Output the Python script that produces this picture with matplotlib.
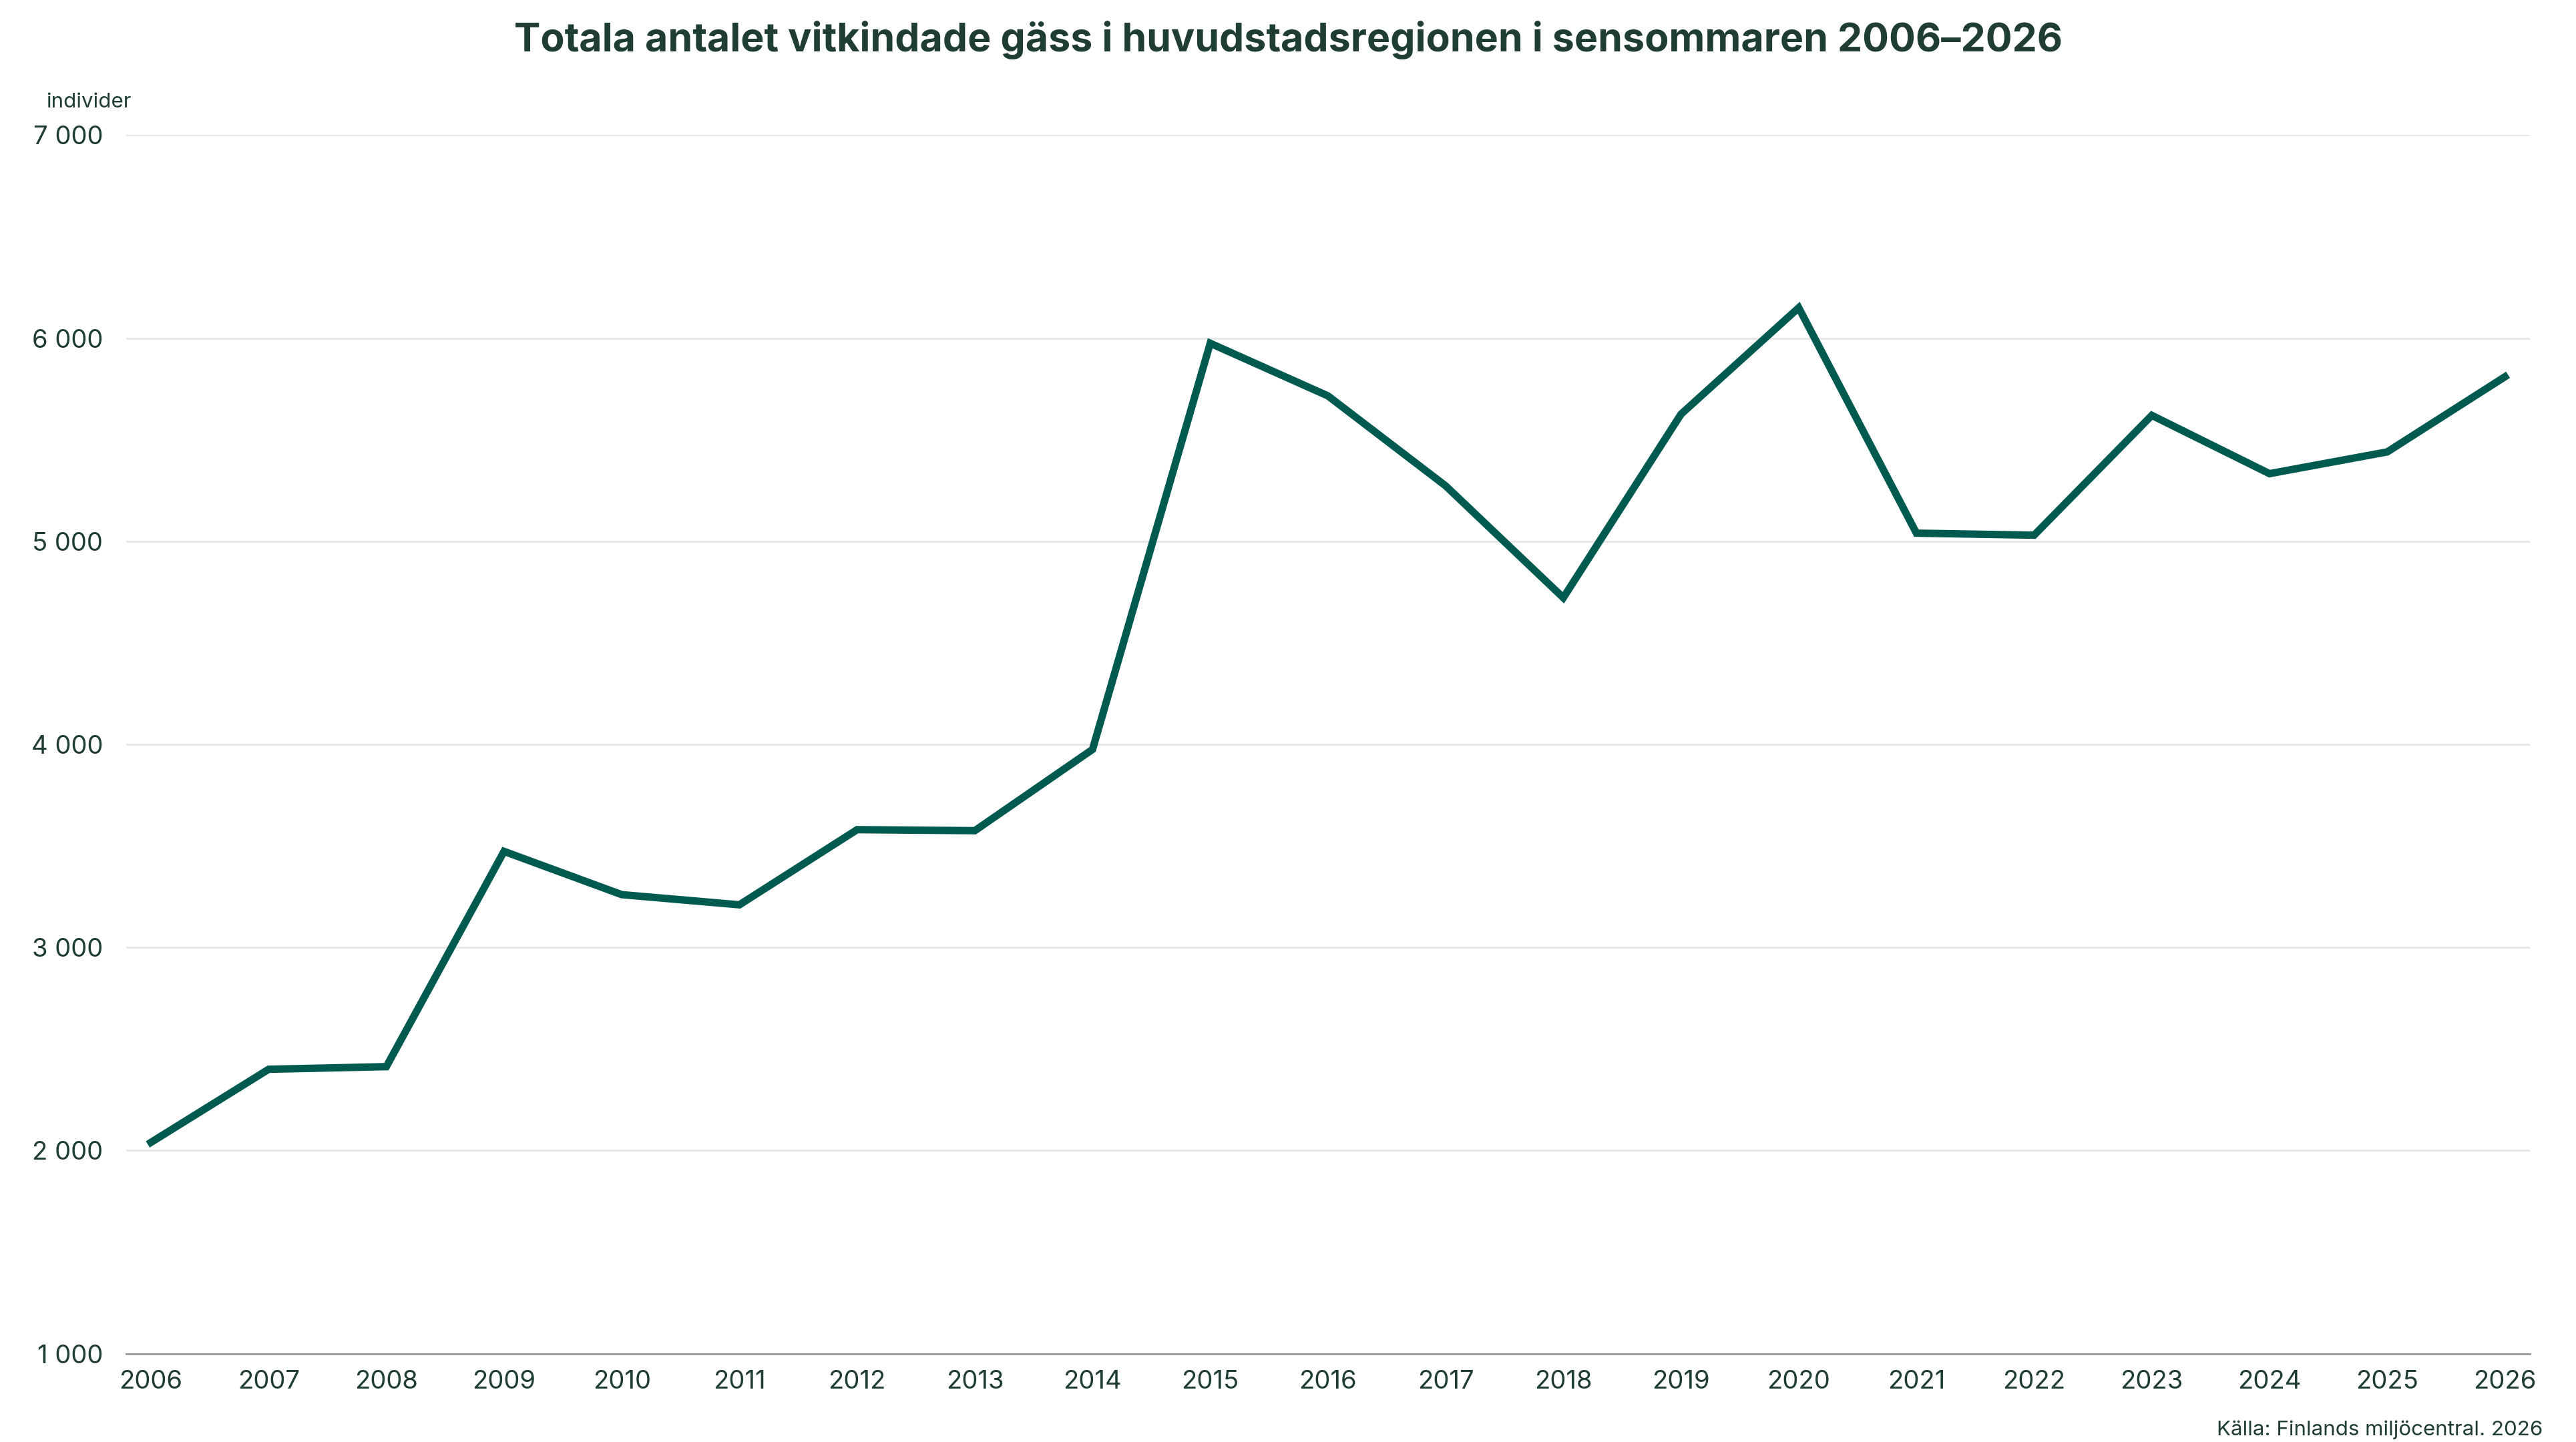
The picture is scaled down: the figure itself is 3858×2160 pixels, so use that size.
import matplotlib.pyplot as plt

years = list(range(2006, 2027))
geese = [2040, 2400, 2413, 3473, 3260, 3210, 3580, 3575, 3975, 5975, 5716,
         5273, 4722, 5626, 6150, 5040, 5030, 5620, 5333, 5440, 5810]
yticks = [1000, 2000, 3000, 4000, 5000, 6000, 7000]

plt.rcParams['font.family'] = ['Inter', 'DejaVu Sans']
dark = "#1f3d33"

fig = plt.figure(figsize=(15.432, 8.64), dpi=250)
ax = fig.add_axes([0.049, 0.0613, 0.933, 0.845])
ax.plot(years, geese, color="#005a50", lw=3.2, solid_joinstyle="miter")
ax.set_xlim(2005.79, 2026.21)
ax.set_ylim(1000, 7000)
ax.set_xticks(years)
ax.set_yticks(yticks)
ax.set_yticklabels([f"{v:,}".replace(",", " ") for v in yticks])
ax.grid(axis="y", color="#e6e6e6", lw=0.8)
ax.set_axisbelow(True)
for s in ["top", "right", "left"]:
    ax.spines[s].set_visible(False)
ax.spines["bottom"].set_color("#999999")
ax.tick_params(axis="both", length=0, labelsize=11, colors=dark)
ax.tick_params(axis="x", pad=7)
ax.tick_params(axis="y", pad=10)

fig.text(0.5, 0.972, "Totala antalet vitkindade gäss i huvudstadsregionen i sensommaren 2006–2026",
         ha="center", va="center", fontsize=17, fontweight="bold", color=dark)
fig.text(0.018, 0.929, "individer", fontsize=9, color=dark, va="center")
fig.text(0.987, 0.002 + 0.0, "Källa: Finlands miljöcentral. 2026", fontsize=9, color=dark,
         ha="right", va="bottom", transform=fig.transFigure)

fig.savefig("out.png")
